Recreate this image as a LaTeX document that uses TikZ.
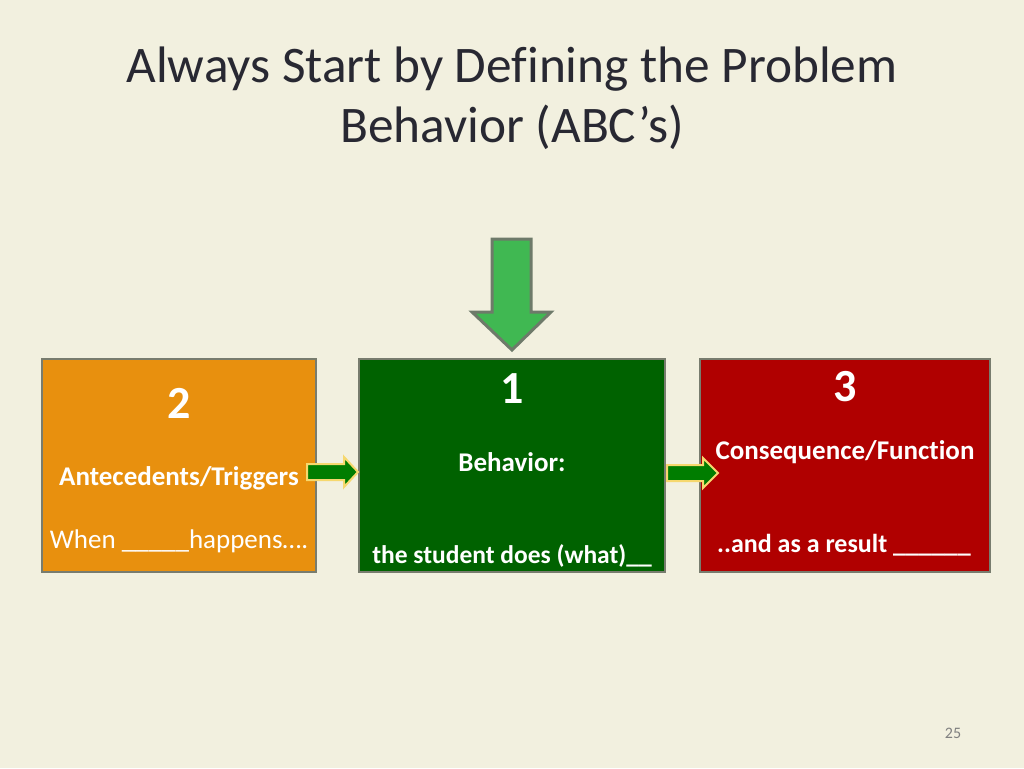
\documentclass[tikz,border=0pt]{standalone}
\usepackage{fontspec}
\setmainfont[Ligatures=NoCommon]{Carlito}
\definecolor{bg}{RGB}{242,240,223}
\definecolor{orangebox}{RGB}{232,144,14}
\definecolor{greenbox}{RGB}{0,98,0}
\definecolor{redbox}{RGB}{176,0,0}
\definecolor{boxline}{RGB}{120,124,110}
\definecolor{toparrow}{RGB}{64,184,82}
\definecolor{toparrowline}{RGB}{110,122,106}
\definecolor{smallarrow}{RGB}{0,125,0}
\definecolor{smallarrowline}{RGB}{246,216,110}
\definecolor{titlegray}{RGB}{40,40,50}
\begin{document}
\begin{tikzpicture}[x=1pt,y=-1pt,
  box/.style={draw=boxline,line width=2.5pt},
  lbl/.style={text=white,font=\bfseries\fontsize{27}{32}\selectfont,anchor=base},
  num/.style={text=white,font=\bfseries\fontsize{46}{52}\selectfont,anchor=base},
  ttl/.style={text=titlegray,font=\fontsize{51.3}{60}\selectfont,anchor=base},
  sarrow/.style={fill=smallarrow,draw=smallarrowline,line width=2pt,line join=miter}]
\useasboundingbox[fill=bg] (0,0) rectangle (1024,768);
% title
\node[ttl] (title1) at (512,82) {Always Start by Defining the Problem};
\node[ttl] (title2) at (512,142) {Behavior (ABC’s)};
% boxes
\draw[box,fill=orangebox] (42,359) rectangle (316,572);
\draw[box,fill=greenbox] (359,359) rectangle (665,572);
\draw[box,fill=redbox] (700,359) rectangle (990,572);
% texts box A
\node[num] (n2) at (179,418) {2};
\node[lbl] (ant) at (179,485) {Antecedents/Triggers};
\node[text=white,font=\fontsize{27}{32}\selectfont,anchor=base] (when) at (179,548) {When \_\_\_\_\_happens….};
% box B
\node[num] (n1) at (512,403) {1};
\node[lbl] (beh) at (512,471) {Behavior:};
\node[lbl,font=\bfseries\fontsize{25.5}{30}\selectfont] (stud) at (512,563) {the student does (what)\_\_};
% box C
\node[num] (n3) at (845,401) {3};
\node[lbl] (cons) at (845,459) {Consequence/Function};
\node[lbl,font=\bfseries\fontsize{26}{30}\selectfont] (res) at (844,552) {..and as a result \_\_\_\_\_\_};
% top arrow
\draw[fill=toparrow,draw=toparrowline,line width=3pt,line join=miter]
  (492,239) -- (531,239) -- (531,312) -- (551,312) -- (512,350) -- (472,312) -- (492,312) -- cycle;
% small arrows
\draw[sarrow] (307,464) -- (344,464) -- (344,457) -- (358,472) -- (344,487) -- (344,480) -- (307,480) -- cycle;
\draw[sarrow] (667,465) -- (703,465) -- (703,458) -- (718,473) -- (703,488) -- (703,481) -- (667,481) -- cycle;
% page number
\node[text=gray,font=\fontsize{16}{18}\selectfont] (pg) at (953,733) {25};
\end{tikzpicture}
\end{document}
